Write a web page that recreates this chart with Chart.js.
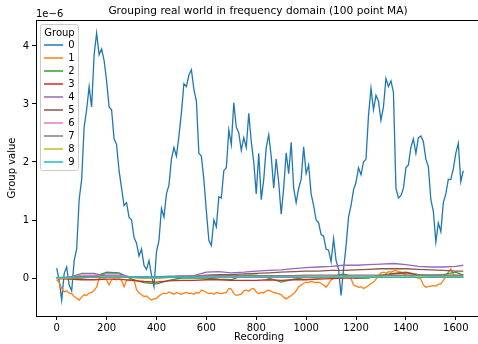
<!DOCTYPE html>
<html>
<head>
<meta charset="utf-8">
<script src="https://cdn.jsdelivr.net/npm/chart.js@4/dist/chart.umd.min.js"></script>
<style>
  html, body { margin: 0; padding: 0; background: #fff; overflow: hidden; }
</style>
</head>
<body>
<canvas id="groupChart" width="478" height="344"></canvas>
<script>
// recording index, every 10th sample (x positions only)
const recFine = Array.from({ length: 164 }, (_, i) => i * 10);
const recCoarse = [0, 50, 100, 150, 200, 250, 300, 350, 400, 450, 500, 550, 600, 650, 700, 750, 800,
  850, 900, 950, 1000, 1050, 1100, 1150, 1200, 1250, 1300, 1350, 1400, 1450, 1500, 1550, 1600, 1630];

// values in units of 1e-6
const group0 = [0.17, -0.05, -0.38, 0.08, 0.19, -0.12, -0.22, 0.3, 0.5, 1.35,
  1.7, 2.6, 2.9, 3.3, 2.95, 3.85, 4.22, 3.85, 3.95, 3.75,
  3.4, 2.95, 2.9, 2.4, 2.3, 1.85, 1.55, 1.25, 1.3, 1.05,
  1.0, 0.7, 0.6, 0.38, 0.5, 0.22, 0.15, 0.3, 0.05, -0.15,
  0.45, 0.65, 1.2, 1.05, 1.45, 1.6, 2.05, 2.25, 2.1, 2.45,
  2.85, 3.35, 3.3, 3.5, 3.59, 3.25, 3.05, 2.15, 2.1, 1.7,
  1.15, 0.65, 0.56, 1.0, 0.88, 1.4, 1.38, 1.85, 1.9, 2.55,
  2.3, 3.02, 2.6, 2.5, 2.2, 2.42, 2.25, 2.84, 2.35, 2.0,
  1.45, 2.15, 1.35, 1.7, 2.25, 2.47, 2.1, 1.55, 2.05, 1.65,
  1.1, 1.55, 2.16, 1.8, 2.34, 1.55, 1.3, 1.55, 1.7, 2.26,
  1.8, 1.95, 1.45, 1.25, 1.0, 0.95, 0.75, 0.72, 0.5, 0.48,
  0.28, 0.68, 0.3, 0.15, -0.3, 0.15, 0.55, 1.05, 1.25, 1.52,
  1.65, 1.9, 1.78, 2.0, 2.05, 2.8, 3.27, 2.9, 3.15, 3.05,
  2.72, 2.95, 3.44, 3.3, 3.4, 3.2, 1.55, 1.38, 1.42, 1.55,
  1.9, 1.95, 2.25, 2.4, 2.15, 2.42, 2.45, 2.35, 2.05, 1.92,
  1.35, 1.15, 0.62, 0.95, 0.8, 1.3, 1.45, 1.7, 1.7, 1.88,
  2.15, 2.32, 1.66, 1.85];

const group1 = [-0.03, -0.08, -0.18, -0.24, -0.22, -0.26, -0.27, -0.32, -0.35, -0.38,
  -0.33, -0.29, -0.3, -0.26, -0.25, -0.21, -0.16, -0.01, -0.02, -0.02,
  -0.03, -0.12, -0.03, -0.02, -0.03, -0.02, -0.04, -0.15, -0.04, -0.03,
  -0.02, -0.03, -0.2, -0.26, -0.29, -0.32, -0.31, -0.35, -0.38, -0.36,
  -0.35, -0.31, -0.28, -0.26, -0.27, -0.24, -0.26, -0.28, -0.25, -0.27,
  -0.28, -0.26, -0.25, -0.27, -0.26, -0.28, -0.25, -0.26, -0.21, -0.22,
  -0.25, -0.27, -0.26, -0.28, -0.25, -0.26, -0.27, -0.26, -0.25, -0.18,
  -0.19, -0.27, -0.3, -0.29, -0.28, -0.22, -0.21, -0.23, -0.19, -0.18,
  -0.24, -0.27, -0.25, -0.26, -0.22, -0.21, -0.23, -0.25, -0.26, -0.27,
  -0.29, -0.33, -0.36, -0.33, -0.3, -0.27, -0.22, -0.15, -0.12, -0.09,
  -0.07, -0.08, -0.06, -0.07, -0.08, -0.07, -0.09, -0.12, -0.16, -0.1,
  -0.03, -0.01, 0.01, 0.02, 0.01, 0.04, 0.05, 0.03, -0.01, -0.12,
  -0.14, -0.16, -0.15, -0.18, -0.16, -0.13, -0.1, -0.07, -0.02, 0.04,
  0.09, 0.1, 0.08, 0.11, 0.1, 0.12, 0.13, 0.11, 0.1, 0.08,
  0.05, 0.04, 0.03, 0.02, 0.01, 0.0, -0.02, -0.12, -0.16, -0.15,
  -0.14, -0.13, -0.14, -0.11, -0.1, -0.04, 0.02, 0.1, 0.16, 0.06,
  0.05, 0.04, 0.05, 0.05];

const group2 = [0, -0.01, 0.0, 0.02, 0.1, 0.09, -0.02, -0.08, -0.1, -0.04, 0.0, 0.0, 0.0, -0.02, -0.03, 0.05,
  0.05, 0.0, -0.07, -0.02, 0.01, 0.0, 0.02, 0.07, 0.0, 0.0, 0.05, 0.08, 0.1, 0.06, 0.05, 0.06, 0.1, 0.05];
const group3 = [-0.01, -0.02, -0.03, -0.03, -0.02, -0.02, -0.04, -0.06, -0.07, -0.05, -0.04, -0.04, -0.03,
  -0.03, -0.04, -0.04, -0.04, -0.03, -0.04, -0.03, -0.03, -0.02, -0.01, 0.0, 0.0, 0.01, 0.03, 0.07, 0.09,
  0.05, 0.03, 0.02, 0.02, 0.02];
const group4 = [0, 0.01, 0.03, 0.04, 0.07, 0.07, 0.01, 0.01, 0.01, 0.02, 0.03, 0.04, 0.1, 0.11, 0.09, 0.1,
  0.12, 0.13, 0.14, 0.16, 0.18, 0.19, 0.2, 0.22, 0.22, 0.23, 0.24, 0.25, 0.23, 0.2, 0.19, 0.19, 0.2, 0.22];
const group5 = [0, 0.0, 0.02, 0.02, 0.04, 0.04, 0.01, 0.0, 0.0, 0.01, 0.02, 0.03, 0.05, 0.06, 0.06, 0.07,
  0.08, 0.09, 0.1, 0.11, 0.12, 0.12, 0.13, 0.13, 0.14, 0.15, 0.16, 0.16, 0.16, 0.15, 0.14, 0.13, 0.12, 0.12];
const group6 = [0, 0.02, 0.05, 0.05, 0.04, 0.04, 0.02, 0.02, 0.02, 0.02, 0.03, 0.03, 0.03, 0.03, 0.03, 0.03,
  0.03, 0.03, 0.03, 0.03, 0.03, 0.03, 0.03, 0.03, 0.03, 0.03, 0.04, 0.04, 0.04, 0.04, 0.04, 0.04, 0.04, 0.04];
const group7 = [0, 0.01, 0.08, 0.08, 0.03, 0.03, 0.02, 0.02, 0.02, 0.03, 0.03, 0.03, 0.04, 0.04, 0.04, 0.04,
  0.04, 0.04, 0.04, 0.04, 0.05, 0.05, 0.05, 0.05, 0.05, 0.05, 0.05, 0.05, 0.05, 0.05, 0.05, 0.05, 0.05, 0.05];
const group8 = [0, 0.0, 0.01, 0.01, 0.02, 0.02, 0.01, 0.0, 0.0, 0.01, 0.01, 0.01, 0.01, 0.01, 0.01, 0.01,
  0.01, 0.01, 0.01, 0.01, 0.02, 0.02, 0.02, 0.02, 0.02, 0.02, 0.02, 0.02, 0.02, 0.02, 0.02, 0.02, 0.02, 0.02];
const group9 = [0.01, 0.01, 0.01, 0.01, 0.01, 0.01, 0.01, 0.01, 0.01, 0.01, 0.01, 0.01, 0.01, 0.01, 0.01,
  0.01, 0.01, 0.01, 0.01, 0.01, 0.01, 0.01, 0.01, 0.01, 0.01, 0.01, 0.01, 0.01, 0.01, 0.01, 0.01, 0.01, 0.01, 0.01];

const groupNames = ['0', '1', '2', '3', '4', '5', '6', '7', '8', '9'];
const groupColors = ['#1f77b4', '#ff7f0e', '#2ca02c', '#d62728', '#9467bd',
  '#8c564b', '#e377c2', '#7f7f7f', '#bcbd22', '#17becf'];
const xTicks = [0, 200, 400, 600, 800, 1000, 1200, 1400, 1600];
const yTicks = [0, 1, 2, 3, 4];

const seriesX = [recFine, recFine, recCoarse, recCoarse, recCoarse, recCoarse, recCoarse, recCoarse, recCoarse, recCoarse];
const seriesY = [group0, group1, group2, group3, group4, group5, group6, group7, group8, group9];

const FONT = "'DejaVu Sans', sans-serif";

// texts, spine and legend drawn like matplotlib
const decorations = {
  id: 'decorations',
  afterDraw(chart) {
    const { ctx, chartArea: a } = chart;
    ctx.save();
    // top spine
    ctx.strokeStyle = '#000';
    ctx.lineWidth = 1;
    ctx.beginPath();
    ctx.moveTo(a.left, a.top + 0.5);
    ctx.lineTo(a.right, a.top + 0.5);
    ctx.stroke();

    ctx.fillStyle = '#000';
    ctx.textBaseline = 'middle';
    ctx.textAlign = 'center';
    ctx.font = '10.6px ' + FONT;
    ctx.fillText('Grouping real world in frequency domain (100 point MA)', 258, 11);
    ctx.font = '10px ' + FONT;
    ctx.fillText('Recording', 259, 337);
    ctx.textAlign = 'left';
    ctx.fillText('1e\u22126', 36, 14);

    ctx.save();
    ctx.translate(12, 168);
    ctx.rotate(-Math.PI / 2);
    ctx.textAlign = 'center';
    ctx.fillText('Group value', 0, 0);
    ctx.restore();

    // legend box
    ctx.fillStyle = 'rgba(255,255,255,0.8)';
    ctx.strokeStyle = '#cccccc';
    ctx.beginPath();
    ctx.roundRect(40.5, 24.5, 38, 146, 2);
    ctx.fill();
    ctx.stroke();
    ctx.fillStyle = '#000';
    ctx.textAlign = 'center';
    ctx.fillText('Group', 59.5, 33);
    groupNames.forEach((name, i) => {
      const y = 45 + i * 13;
      ctx.strokeStyle = groupColors[i];
      ctx.lineWidth = 1.5;
      ctx.beginPath();
      ctx.moveTo(44, y);
      ctx.lineTo(63, y);
      ctx.stroke();
      ctx.fillStyle = '#000';
      ctx.fillText(name, 71.5, y);
    });
    ctx.restore();
  }
};

const ctxGroup = document.getElementById('groupChart').getContext('2d');

const cfgGroup = {
  type: 'line',
  data: {
    datasets: groupNames.map((name, i) => ({
      label: name,
      data: seriesX[i].map((x, j) => ({ x: x, y: seriesY[i][j] })),
      borderColor: groupColors[i],
      backgroundColor: groupColors[i],
      borderWidth: 1.3,
      pointRadius: 0,
      tension: 0,
      order: 10 - i
    }))
  },
  options: {
    responsive: false,
    animation: false,
    layout: { padding: { top: 20, left: 0, right: 0, bottom: 0 } },
    plugins: {
      legend: { display: false },
      tooltip: { enabled: false }
    },
    scales: {
      x: {
        type: 'linear',
        min: -83,
        max: 1689,
        border: { display: true, color: '#000', width: 1 },
        grid: { display: true, drawOnChartArea: false, drawTicks: true, tickLength: 4, color: '#000' },
        ticks: { color: '#000', font: { family: FONT, size: 10 }, padding: 2, maxRotation: 0,
          callback: v => String(v) },
        afterBuildTicks: s => { s.ticks = xTicks.map(v => ({ value: v })); },
        afterFit: s => { s.height = 28; }
      },
      y: {
        type: 'linear',
        min: -0.655,
        max: 4.448,
        border: { display: true, color: '#000', width: 1 },
        grid: { display: true, drawOnChartArea: false, drawTicks: true, tickLength: 4, color: '#000' },
        ticks: { color: '#000', font: { family: FONT, size: 10 }, padding: 3,
          callback: v => String(v) },
        afterBuildTicks: s => { s.ticks = yTicks.map(v => ({ value: v })); },
        afterFit: s => { s.width = 36; }
      }
    }
  },
  plugins: [decorations]
};

const groupChart = new Chart(ctxGroup, cfgGroup);
</script>
</body>
</html>
